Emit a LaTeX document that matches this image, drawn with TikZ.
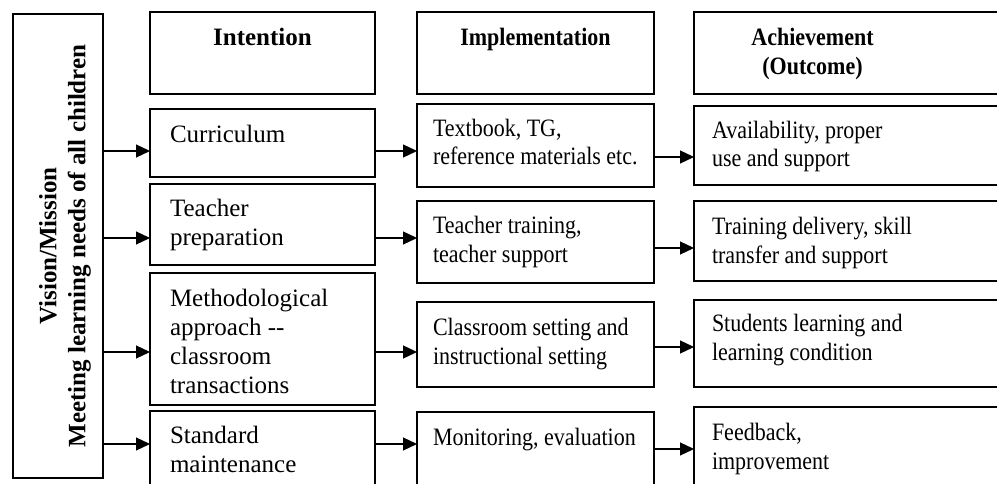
\documentclass[tikz,border=0pt]{standalone}
\usepackage{fontspec}
\setmainfont{Liberation Serif}[FakeStretch=0.88]
\newfontfamily\widefont{Liberation Serif}
\usetikzlibrary{arrows.meta}
\tikzset{
  box/.style={draw, line width=1.2pt, rectangle, inner sep=0pt, outer sep=0pt, anchor=north west},
  txt/.style={inner sep=0pt, outer sep=0pt, anchor=base west, align=left, font=\fontsize{25}{28.5}\selectfont},
  wtxt/.style={txt, font=\widefont\fontsize{25}{29}\selectfont},
  head/.style={inner sep=0pt, outer sep=0pt, anchor=base, align=center, font=\bfseries\fontsize{25}{29}\selectfont},
  arr/.style={line width=1.2pt, -{Triangle[length=14pt,width=13pt]}}
}
\begin{document}
\begin{tikzpicture}[x=1pt,y=-1pt]
\useasboundingbox (0,0) rectangle (997,484);
\clip (0,0) rectangle (997,484);
% vision box
\node[box, minimum width=90, minimum height=464] (vis) at (13,14) {};
\node[rotate=90, align=center, inner sep=0pt, font=\widefont\bfseries\fontsize{25}{29}\selectfont] (vist) at (65,246) {Vision/Mission\\Meeting learning needs of all children};
% intention column
\node[box, minimum width=225, minimum height=82] (ih) at (150,12) {};
\node[box, minimum width=225, minimum height=68] (i1) at (150,109) {};
\node[box, minimum width=225, minimum height=81] (i2) at (150,184) {};
\node[box, minimum width=225, minimum height=132] (i3) at (150,273) {};
\node[box, minimum width=225, minimum height=100] (i4) at (150,411) {};
\node[head, font=\widefont\bfseries\fontsize{25}{29}\selectfont] (iht) at (262.5,46) {Intention};
\node[wtxt] (i1t) at (170,143) {Curriculum};
\node[wtxt] (i2t) at (170,246) {Teacher\\preparation};
\node[wtxt] (i3t) at (170,393) {Methodological\\approach --\\classroom\\transactions};
\node[wtxt] (i4t) at (170,472) {Standard\\maintenance};
% implementation column
\node[box, minimum width=237, minimum height=82] (mh) at (417,12) {};
\node[box, minimum width=237, minimum height=83] (m1) at (417,104) {};
\node[box, minimum width=237, minimum height=82] (m2) at (417,201) {};
\node[box, minimum width=237, minimum height=85] (m3) at (417,302) {};
\node[box, minimum width=237, minimum height=100] (m4) at (417,412) {};
\node[head] (mht) at (535.5,46) {Implementation};
\node[txt] (m1t) at (433,165) {Textbook, TG,\\reference materials etc.};
\node[txt] (m2t) at (433,262) {Teacher training,\\teacher support};
\node[txt] (m3t) at (433,364) {Classroom setting and\\instructional setting};
\node[txt] (m4t) at (433,445) {Monitoring, evaluation};
% achievement column
\node[box, minimum width=330, minimum height=82] (ah) at (694,12) {};
\node[box, minimum width=330, minimum height=79] (a1) at (694,106) {};
\node[box, minimum width=330, minimum height=80] (a2) at (694,201) {};
\node[box, minimum width=330, minimum height=87] (a3) at (694,300) {};
\node[box, minimum width=330, minimum height=100] (a4) at (694,407) {};
\node[head] (aht) at (812.5,75) {Achievement\\(Outcome)};
\node[txt] (a1t) at (712,167) {Availability, proper\\use and support};
\node[txt] (a2t) at (712,263) {Training delivery, skill\\transfer and support};
\node[txt] (a3t) at (712,360) {Students learning and\\learning condition};
\node[txt] (a4t) at (712,469) {Feedback,\\improvement};
% arrows vision -> intention
\draw[arr] (vis.east |- 0,151) -- (i1.west |- 0,151);
\draw[arr] (vis.east |- 0,238) -- (i2.west |- 0,238);
\draw[arr] (vis.east |- 0,352) -- (i3.west |- 0,352);
\draw[arr] (vis.east |- 0,444) -- (i4.west |- 0,444);
% intention -> implementation
\draw[arr] (i1.east |- 0,151) -- (m1.west |- 0,151);
\draw[arr] (i2.east |- 0,238) -- (m2.west |- 0,238);
\draw[arr] (i3.east |- 0,352) -- (m3.west |- 0,352);
\draw[arr] (i4.east |- 0,444) -- (m4.west |- 0,444);
% implementation -> achievement
\draw[arr] (m1.east |- 0,157) -- (a1.west |- 0,157);
\draw[arr] (m2.east |- 0,248) -- (a2.west |- 0,248);
\draw[arr] (m3.east |- 0,347) -- (a3.west |- 0,347);
\draw[arr] (m4.east |- 0,449) -- (a4.west |- 0,449);
\end{tikzpicture}
\end{document}
